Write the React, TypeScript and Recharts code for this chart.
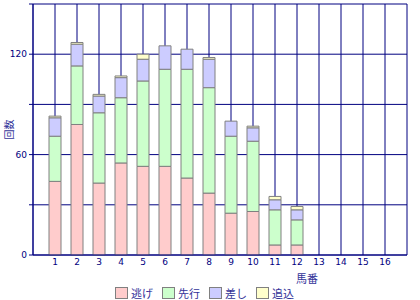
import React from 'react';
import { BarChart, Bar, XAxis, YAxis, CartesianGrid, Legend } from 'recharts';

const horses = [1, 2, 3, 4, 5, 6, 7, 8, 9, 10, 11, 12, 13, 14, 15, 16];
const nige = [44, 78, 43, 55, 53, 53, 46, 37, 25, 26, 6, 6, 0, 0, 0, 0];
const senko = [27, 35, 42, 39, 51, 58, 65, 63, 46, 42, 21, 15, 0, 0, 0, 0];
const sashi = [11, 13, 10, 12, 13, 14, 12, 17, 9, 8, 6, 6, 0, 0, 0, 0];
const oikomi = [1, 1, 1, 1, 3, 0, 0, 1, 0, 1, 2, 2, 0, 0, 0, 0];

const xTicks = [0, ...horses, 17];
const yTicks = [0, 30, 60, 90, 120, 150];
const yLabels = [0, 60, 120];

const series = [
  { key: 'nige', name: '逃げ', color: '#ffcccc' },
  { key: 'senko', name: '先行', color: '#ccffcc' },
  { key: 'sashi', name: '差し', color: '#ccccff' },
  { key: 'oikomi', name: '追込', color: '#ffffcc' },
];

const data = horses.map((h, i) => ({
  num: h,
  nige: nige[i],
  senko: senko[i],
  sashi: sashi[i],
  oikomi: oikomi[i],
}));

const NAVY = '#000080';
const FONT = '"DejaVu Sans", "Noto Sans CJK JP", sans-serif';
const JP = '"Noto Sans CJK JP", sans-serif';

function LegendBox() {
  return (
    <div style={{ display: 'flex', justifyContent: 'center', gap: 9, fontFamily: JP, fontSize: 11, color: '#333399', paddingLeft: 2, marginTop: 2 }}>
      {series.map((s) => (
        <div key={s.key} style={{ display: 'flex', alignItems: 'center' }}>
          <span style={{ display: 'inline-block', width: 11, height: 10, background: s.color, border: '1px solid #808080', marginRight: 3 }} />
          <span>{s.name}</span>
        </div>
      ))}
    </div>
  );
}

function YTitle(props: any) {
  const vb = props.viewBox || { y: 4, height: 251 };
  const cy = vb.y + vb.height / 2;
  return (
    <text x={8} y={cy} transform={`rotate(-90, 8, ${cy})`} textAnchor="middle" dominantBaseline="central" fontSize={10} fill="#333399" fontFamily={JP}>
      回数
    </text>
  );
}

export default function App() {
  return (
    <div style={{ position: 'absolute', left: 0, top: 0, width: 420, height: 300, background: '#fff' }}>
      <BarChart width={420} height={300} data={data} margin={{ top: 4, right: 13, left: 0, bottom: 0 }} barSize={12}>
        <CartesianGrid stroke={NAVY} strokeWidth={1} />
        <XAxis
          dataKey="num"
          type="number"
          domain={[0, 17]}
          ticks={xTicks}
          interval={0}
          tickFormatter={(v) => (v === 0 || v === 17 ? '' : String(v))}
          axisLine={{ stroke: NAVY }}
          tickLine={false}
          tickSize={2}
          height={28}
          tick={{ fontSize: 9, fill: NAVY, fontFamily: FONT }}
          label={{ value: '馬番', position: 'insideBottom', offset: 0, dx: 87, fontSize: 11, fill: '#333399', fontFamily: JP }}
        />
        <YAxis
          type="number"
          domain={[0, 150]}
          ticks={yTicks}
          interval={0}
          width={33}
          tickFormatter={(v) => (yLabels.includes(v) ? String(v) : '')}
          axisLine={{ stroke: NAVY }}
          tickLine={{ stroke: NAVY }}
          tickSize={4}
          tick={{ fontSize: 9, fill: NAVY, fontFamily: FONT }}
          label={<YTitle />}
        />
        <Legend verticalAlign="bottom" height={17} content={() => <LegendBox />} />
        {series.map((s) => (
          <Bar key={s.key} dataKey={s.key} name={s.name} stackId="a" fill={s.color} stroke="#808080" strokeWidth={1} isAnimationActive={false} />
        ))}
      </BarChart>
    </div>
  );
}
